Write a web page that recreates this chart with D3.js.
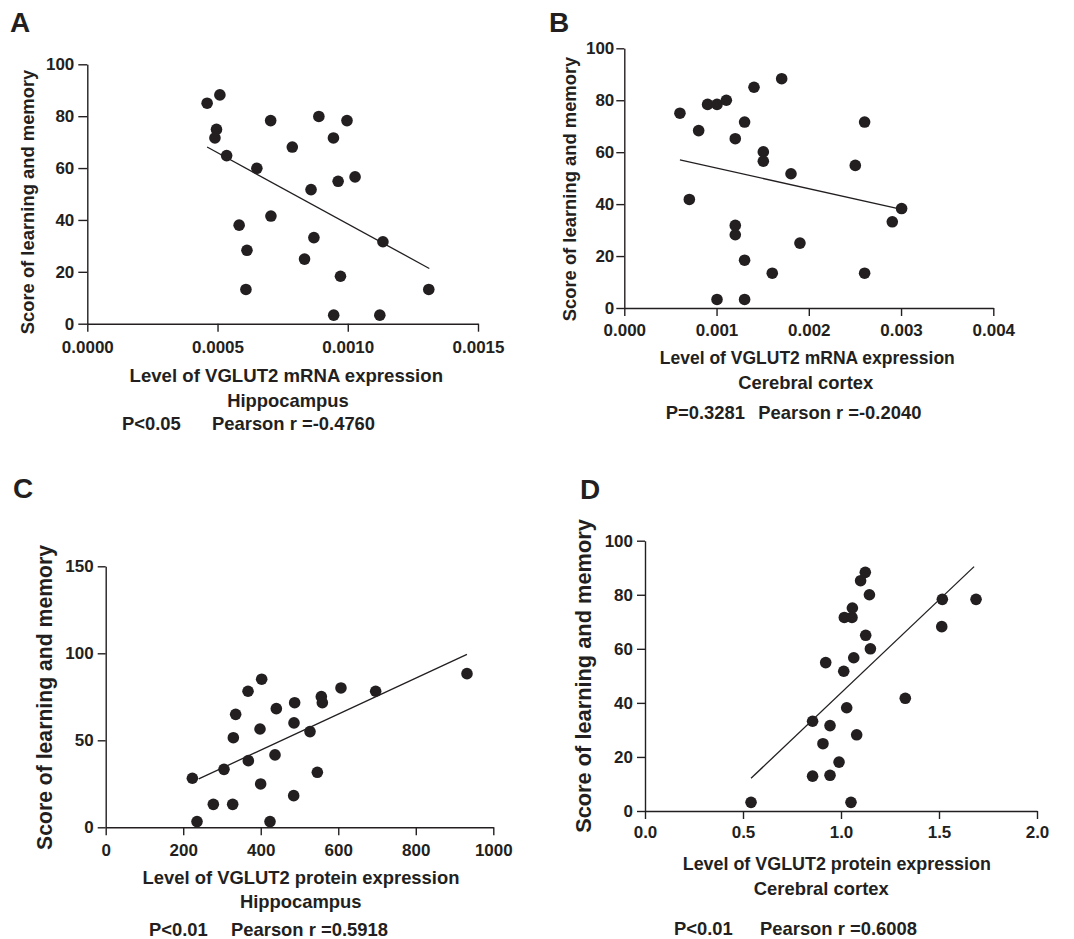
<!DOCTYPE html>
<html><head><meta charset="utf-8">
<script src="https://cdn.jsdelivr.net/npm/d3@7"></script>
<style>
html,body{margin:0;padding:0;background:#fff;}
text{font-family:"Liberation Sans",Arial,Helvetica,sans-serif;font-weight:bold;fill:#231f20;}
</style></head>
<body><svg id="c" width="1074" height="939"></svg>
<script>
// ---- Data ----
// Panel A: VGLUT2 mRNA, Hippocampus
const aX = [0.000460,0.000509,0.000496,0.000490,0.000535,0.000651,0.000704,0.000787,0.000889,0.000997,0.000945,0.000859,0.000963,0.001028,0.000583,0.000705,0.000870,0.000613,0.000834,0.001135,0.000972,0.000609,0.001311,0.000946,0.001123];
const aY = [85.0,88.2,74.9,71.6,64.8,59.9,78.3,68.1,79.9,78.3,71.6,51.7,54.9,56.6,38.0,41.5,33.2,28.3,24.9,31.6,18.3,13.2,13.2,3.3,3.3];
const aFitX = [0.000460,0.001313];
const aFitY = [68.1,21.3];
// Panel B: VGLUT2 mRNA, Cerebral cortex
const bX = [0.000603,0.000806,0.000903,0.001005,0.001106,0.001406,0.001706,0.001304,0.001203,0.001507,0.001507,0.001807,0.002605,0.002504,0.000705,0.003006,0.002905,0.001203,0.001203,0.001904,0.001304,0.001604,0.002605,0.001005,0.001304];
const bY = [75.0,68.3,78.4,78.4,80.0,85.0,88.3,71.6,65.2,60.1,56.5,51.7,71.6,54.9,41.8,38.3,33.2,31.8,28.2,25.0,18.4,13.4,13.4,3.3,3.3];
const bFitX = [0.000603,0.003006];
const bFitY = [57.0,38.0];
// Panel C: VGLUT2 protein, Hippocampus
const cX = [223.6,235.6,277.7,327.6,305.2,329.3,335.3,367.2,368.0,402.4,398.1,399.8,423.9,440.2,436.8,487.5,485.8,485.0,527.1,546.0,556.3,558.9,607.0,696.5,932.1];
const cY = [28.2,3.3,13.2,13.2,33.3,51.5,64.9,78.2,38.3,85.1,56.5,24.9,3.3,68.2,41.6,71.6,60.0,18.2,55.0,31.6,75.1,71.6,80.1,78.2,88.3];
const cFitX = [240,932];
const cFitY = [27.8,99.4];
// Panel D: VGLUT2 protein, Cerebral cortex
const dX = [0.541,0.855,0.944,0.990,0.908,0.944,0.855,1.029,1.080,1.051,1.328,0.922,1.014,1.065,1.150,1.126,1.017,1.056,1.058,1.145,1.100,1.124,1.517,1.514,1.689];
const dY = [3.2,12.9,13.2,18.1,24.9,31.6,33.2,38.2,28.2,3.2,41.7,54.9,51.7,56.7,60.0,65.0,71.6,71.6,75.1,80.0,85.2,88.3,78.3,68.2,78.3];
const dFitX = [0.541,1.679];
const dFitY = [12.1,90.4];

// Tick values
const aXTicks = [0,0.0005,0.0010,0.0015];
const bXTicks = [0,0.001,0.002,0.003,0.004];
const cXTicks = [0,200,400,600,800,1000];
const dXTicks = [0,0.5,1.0,1.5,2.0];
const yTicks100 = [0,20,40,60,80,100];
const cYTicks = [0,50,100,150];

// Texts
const yTitle = "Score of learning and memory";
const titles = {
  A:["Level of VGLUT2 mRNA expression","Hippocampus","P<0.05","Pearson r =-0.4760"],
  B:["Level of VGLUT2 mRNA expression","Cerebral cortex","P=0.3281","Pearson r =-0.2040"],
  C:["Level of VGLUT2 protein expression","Hippocampus","P<0.01","Pearson r =0.5918"],
  D:["Level of VGLUT2 protein expression","Cerebral cortex","P<0.01","Pearson r =0.6008"]
};

const svg = d3.select("#c");
const ink = "#231f20";

function panel(p){
  const g = svg.append("g");
  const x = d3.scaleLinear().domain(p.xDom).range([p.x0,p.x1]);
  const y = d3.scaleLinear().domain(p.yDom).range([p.y0,p.y1]);
  const xa = g.append("g").attr("transform",`translate(0,${p.y0})`)
    .call(d3.axisBottom(x).tickValues(p.xTicks).tickFormat(p.xFmt).tickSize(8).tickSizeOuter(0).tickPadding(p.xPad));
  const ya = g.append("g").attr("transform",`translate(${p.x0},0)`)
    .call(d3.axisLeft(y).tickValues(p.yTicks).tickFormat(d3.format("d")).tickSize(p.yTick).tickSizeOuter(0).tickPadding(p.yPad));
  [xa,ya].forEach(a=>{
    a.select(".domain").attr("stroke",ink).attr("stroke-width",1.4);
    a.selectAll(".tick line").attr("stroke",ink).attr("stroke-width",1.4);
    a.selectAll(".tick text").attr("font-size",17).attr("fill",ink)
      .style("font-family","'Liberation Sans',Arial,sans-serif").style("font-weight","bold");
  });
  // regression line
  const pts = p.fitX.map((v,i)=>[v,p.fitY[i]]);
  g.append("path").datum(pts)
    .attr("d",d3.line().x(d=>x(d[0])).y(d=>y(d[1])))
    .attr("fill","none").attr("stroke",ink).attr("stroke-width",1.3);
  // dots
  g.selectAll("circle.pt").data(p.xs.map((v,i)=>[v,p.ys[i]])).enter().append("circle")
    .attr("cx",d=>x(d[0])).attr("cy",d=>y(d[1])).attr("r",5.8).attr("fill",ink);
  // panel letter
  g.append("text").attr("x",p.lx).attr("y",p.ly).attr("font-size",28).text(p.letter);
  // y title
  g.append("text").attr("transform",`translate(${p.ytx},${p.yty}) rotate(-90)`)
    .attr("text-anchor","middle").attr("font-size",p.ytSize).text(yTitle);
  const t = titles[p.letter];
  g.append("text").attr("x",p.t1x).attr("y",p.t1y).attr("text-anchor","middle").attr("font-size",p.t1Size).text(t[0]);
  g.append("text").attr("x",p.t2x).attr("y",p.t2y).attr("text-anchor","middle").attr("font-size",18.4).text(t[1]);
  g.append("text").attr("x",p.pX).attr("y",p.pY).attr("font-size",18.4).text(t[2]);
  g.append("text").attr("x",p.rX).attr("y",p.pY).attr("font-size",18.4).text(t[3]);
}

panel({letter:"A",xs:aX,ys:aY,fitX:aFitX,fitY:aFitY,
  xDom:[0,0.0015],yDom:[0,100],x0:87.3,x1:478,y0:323.7,y1:64.3,
  xTicks:aXTicks,yTicks:yTicks100,xFmt:d3.format(".4f"),xPad:9,yTick:9,yPad:4,
  lx:10,ly:32,ytx:34,yty:202,ytSize:18.4,
  t1x:286.3,t1y:381.7,t1Size:18.6,t2x:288,t2y:406.5,pX:122,rX:212,pY:430});
panel({letter:"B",xs:bX,ys:bY,fitX:bFitX,fitY:bFitY,
  xDom:[0,0.004],yDom:[0,100],x0:624.3,x1:993.3,y0:308,y1:48.3,
  xTicks:bXTicks,yTicks:yTicks100,xFmt:d3.format(".3f"),xPad:8,yTick:8,yPad:2,
  lx:549,ly:32,ytx:576,yty:189,ytSize:18.4,
  t1x:807.3,t1y:364.3,t1Size:17.5,t2x:805.8,t2y:389.3,pX:665.7,rX:758.3,pY:419.3});
panel({letter:"C",xs:cX,ys:cY,fitX:cFitX,fitY:cFitY,
  xDom:[0,1000],yDom:[0,150],x0:105.7,x1:493.3,y0:827.3,y1:566.3,
  xTicks:cXTicks,yTicks:cYTicks,xFmt:d3.format("d"),xPad:9,yTick:8,yPad:4,
  lx:13,ly:498,ytx:52,yty:697.5,ytSize:21.2,
  t1x:301,t1y:884.3,t1Size:18.4,t2x:300.7,t2y:907.7,pX:149,rX:231,pY:935.7});
panel({letter:"D",xs:dX,ys:dY,fitX:dFitX,fitY:dFitY,
  xDom:[0,2],yDom:[0,100],x0:645,x1:1037,y0:811,y1:540.7,
  xTicks:dXTicks,yTicks:yTicks100,xFmt:d3.format(".1f"),xPad:7,yTick:8,yPad:4,
  lx:580,ly:499,ytx:591,yty:676,ytSize:21.8,
  t1x:836.8,t1y:870,t1Size:17.9,t2x:821.3,t2y:895,pX:674,rX:760,pY:935});
</script></body></html>
